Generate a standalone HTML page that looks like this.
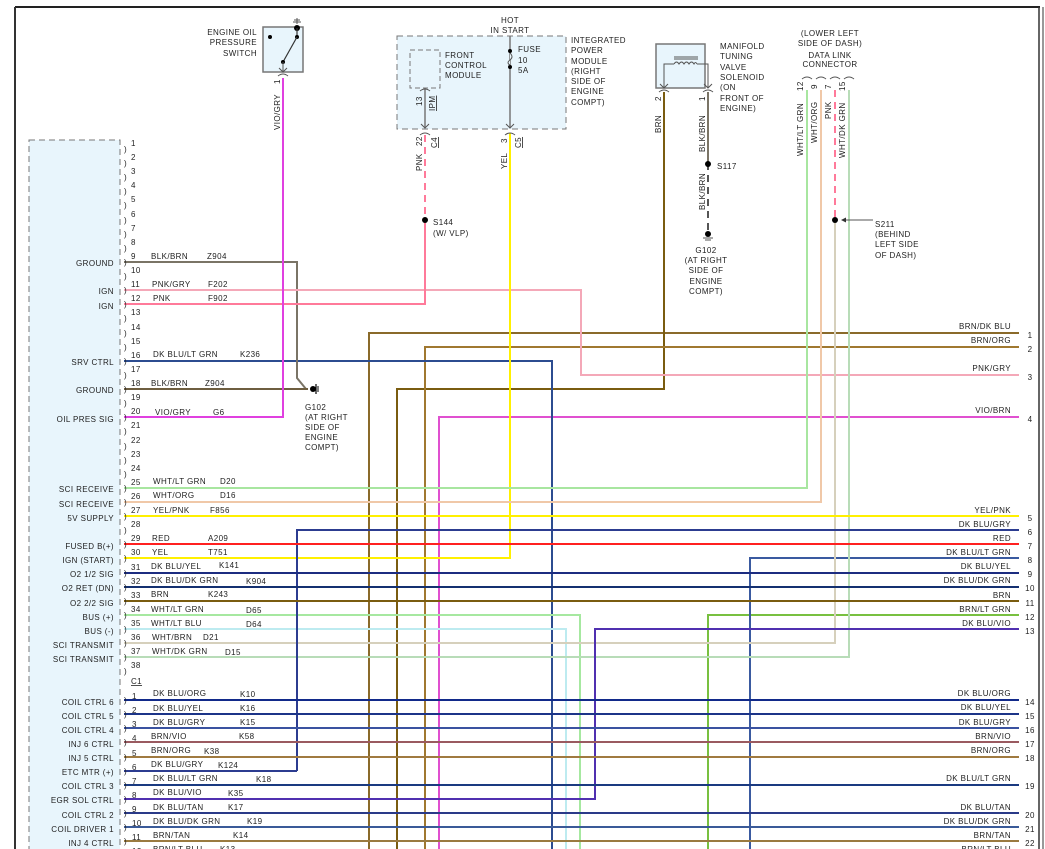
<!DOCTYPE html>
<html><head><meta charset="utf-8"><style>
html,body{margin:0;padding:0;background:#fff;width:1045px;height:849px;overflow:hidden}
svg{display:block}
text{font-family:"Liberation Sans",sans-serif;font-size:8px;fill:#222;letter-spacing:0.4px}
.l{text-anchor:end}
.c{text-anchor:middle}
.w{fill:none;stroke-width:2}
</style></head><body>
<svg width="1045" height="849" viewBox="0 0 1045 849" xmlns="http://www.w3.org/2000/svg">
<!-- borders -->
<line x1="15" y1="7" x2="1040" y2="7" stroke="#222" stroke-width="2"/>
<line x1="15" y1="7" x2="15" y2="849" stroke="#333" stroke-width="2"/>
<line x1="1039" y1="7" x2="1039" y2="849" stroke="#333" stroke-width="1.5"/>
<line x1="1043" y1="7" x2="1043" y2="849" stroke="#333" stroke-width="1"/>
<!-- PCM box -->
<rect x="29" y="140" width="91" height="720" fill="#e8f5fc" stroke="#777" stroke-dasharray="6,4"/>

<!-- vertical long wires to bottom -->
<g class="w">
<path d="M369 849 V333 H1019" stroke="#8a6a2a"/>
<path d="M397 849 V389 H664 V92" stroke="#7a5c10"/>
<path d="M425 849 V347 H1019" stroke="#a07830"/>
<path d="M439 849 V417 H1019" stroke="#e050d0"/>
<path d="M552 849 V361 H124" stroke="#2c4c90"/>
<path d="M566 849 V629 H124" stroke="#bdebf0"/>
<path d="M580 849 V615 H124" stroke="#a6e8a0"/>
<path d="M708 849 V615 H1019" stroke="#78c040"/>
<path d="M750 849 V558 H1019" stroke="#3a5aa0"/>
<!-- top-connected -->
<path d="M124 262 H297 V378 L306 389" stroke="#7a7466"/>
<path d="M124 389 H308" stroke="#6e5e40"/>
<path d="M124 290 H581 V375 H1019" stroke="#f4a8b8"/>
<path d="M124 304 H425 V220" stroke="#ff7a9a"/>
<path d="M124 417 H283 V78" stroke="#e040e0"/>
<path d="M124 558 H510 V133" stroke="#fff000"/>
<path d="M124 488 H807 V90" stroke="#a8e6a0"/>
<path d="M124 502 H821 V90" stroke="#f0c8a8"/>
<path d="M124 643 H835 V222" stroke="#d6d0bc"/>
<path d="M124 657 H849 V90" stroke="#b8dcb8"/>
<path d="M297 771 V530 H1019" stroke="#2c3c90"/>
<path d="M124 771 H297" stroke="#2c3c90"/>
<path d="M124 799 H595 V629 H1019" stroke="#5030b0"/>
<!-- straight -->
<path d="M124 516 H1019" stroke="#fff000"/>
<path d="M124 544 H1019" stroke="#ff2020"/>
<path d="M124 573 H1019" stroke="#1c2c80"/>
<path d="M124 587 H1019" stroke="#143070"/>
<path d="M124 601 H1019" stroke="#7a5c10"/>
<path d="M124 700 H1019" stroke="#122a8a"/>
<path d="M124 714 H1019" stroke="#1c3488"/>
<path d="M124 728 H1019" stroke="#3a52a0"/>
<path d="M124 742 H1019" stroke="#9a5a60"/>
<path d="M124 757 H1019" stroke="#a07a40"/>
<path d="M124 785 H1019" stroke="#1a3a80"/>
<path d="M124 813 H1019" stroke="#2a3a88"/>
<path d="M124 827 H1019" stroke="#3a5a98"/>
<path d="M124 841 H1019" stroke="#9a7a40"/>
</g>
<!-- dashed wires -->
<path d="M425 135 V220" stroke="#ff7a9a" stroke-width="2" stroke-dasharray="7,5" fill="none"/>
<path d="M835 90 V220" stroke="#ff7a9a" stroke-width="2" stroke-dasharray="7,5" fill="none"/>
<path d="M708 92 V163" stroke="#7a7466" stroke-width="2" fill="none"/>
<path d="M708 163 V233" stroke="#555" stroke-width="2" stroke-dasharray="7,5" fill="none"/>

<!-- PCM pins -->
<g>
<text x="124" y="152">)</text><text x="131" y="146">1</text>
<text x="124" y="166">)</text><text x="131" y="160">2</text>
<text x="124" y="180">)</text><text x="131" y="174">3</text>
<text x="124" y="194">)</text><text x="131" y="188">4</text>
<text x="124" y="208">)</text><text x="131" y="202">5</text>
<text x="124" y="223">)</text><text x="131" y="217">6</text>
<text x="124" y="237">)</text><text x="131" y="231">7</text>
<text x="124" y="251">)</text><text x="131" y="245">8</text>
<text x="124" y="265">)</text><text x="131" y="259">9</text>
<text x="124" y="279">)</text><text x="131" y="273">10</text>
<text x="124" y="293">)</text><text x="131" y="287">11</text>
<text x="124" y="307">)</text><text x="131" y="301">12</text>
<text x="124" y="321">)</text><text x="131" y="315">13</text>
<text x="124" y="336">)</text><text x="131" y="330">14</text>
<text x="124" y="350">)</text><text x="131" y="344">15</text>
<text x="124" y="364">)</text><text x="131" y="358">16</text>
<text x="124" y="378">)</text><text x="131" y="372">17</text>
<text x="124" y="392">)</text><text x="131" y="386">18</text>
<text x="124" y="406">)</text><text x="131" y="400">19</text>
<text x="124" y="420">)</text><text x="131" y="414">20</text>
<text x="124" y="434">)</text><text x="131" y="428">21</text>
<text x="124" y="449">)</text><text x="131" y="443">22</text>
<text x="124" y="463">)</text><text x="131" y="457">23</text>
<text x="124" y="477">)</text><text x="131" y="471">24</text>
<text x="124" y="491">)</text><text x="131" y="485">25</text>
<text x="124" y="505">)</text><text x="131" y="499">26</text>
<text x="124" y="519">)</text><text x="131" y="513">27</text>
<text x="124" y="533">)</text><text x="131" y="527">28</text>
<text x="124" y="547">)</text><text x="131" y="541">29</text>
<text x="124" y="561">)</text><text x="131" y="555">30</text>
<text x="124" y="576">)</text><text x="131" y="570">31</text>
<text x="124" y="590">)</text><text x="131" y="584">32</text>
<text x="124" y="604">)</text><text x="131" y="598">33</text>
<text x="124" y="618">)</text><text x="131" y="612">34</text>
<text x="124" y="632">)</text><text x="131" y="626">35</text>
<text x="124" y="646">)</text><text x="131" y="640">36</text>
<text x="124" y="660">)</text><text x="131" y="654">37</text>
<text x="124" y="674">)</text><text x="131" y="668">38</text>
<text x="131" y="684" text-decoration="underline">C1</text>
<text x="124" y="703">)</text><text x="132" y="699">1</text>
<text x="124" y="717">)</text><text x="132" y="713">2</text>
<text x="124" y="731">)</text><text x="132" y="727">3</text>
<text x="124" y="745">)</text><text x="132" y="741">4</text>
<text x="124" y="760">)</text><text x="132" y="756">5</text>
<text x="124" y="774">)</text><text x="132" y="770">6</text>
<text x="124" y="788">)</text><text x="132" y="784">7</text>
<text x="124" y="802">)</text><text x="132" y="798">8</text>
<text x="124" y="816">)</text><text x="132" y="812">9</text>
<text x="124" y="830">)</text><text x="132" y="826">10</text>
<text x="124" y="844">)</text><text x="132" y="840">11</text>
<text x="132" y="854">12</text>
</g>
<!-- PCM left labels -->
<g class="l">
<text x="114" y="266">GROUND</text>
<text x="114" y="294">IGN</text>
<text x="114" y="309">IGN</text>
<text x="114" y="365">SRV CTRL</text>
<text x="114" y="393">GROUND</text>
<text x="114" y="422">OIL PRES SIG</text>
<text x="114" y="492">SCI RECEIVE</text>
<text x="114" y="507">SCI RECEIVE</text>
<text x="114" y="521">5V SUPPLY</text>
<text x="114" y="549">FUSED B(+)</text>
<text x="114" y="563">IGN (START)</text>
<text x="114" y="577">O2 1/2 SIG</text>
<text x="114" y="591">O2 RET (DN)</text>
<text x="114" y="606">O2 2/2 SIG</text>
<text x="114" y="620">BUS (+)</text>
<text x="114" y="634">BUS (-)</text>
<text x="114" y="648">SCI TRANSMIT</text>
<text x="114" y="662">SCI TRANSMIT</text>
<text x="114" y="705">COIL CTRL 6</text>
<text x="114" y="719">COIL CTRL 5</text>
<text x="114" y="733">COIL CTRL 4</text>
<text x="114" y="747">INJ 6 CTRL</text>
<text x="114" y="761">INJ 5 CTRL</text>
<text x="114" y="775">ETC MTR (+)</text>
<text x="114" y="789">COIL CTRL 3</text>
<text x="114" y="803">EGR SOL CTRL</text>
<text x="114" y="818">COIL CTRL 2</text>
<text x="114" y="832">COIL DRIVER 1</text>
<text x="114" y="846">INJ 4 CTRL</text>
</g>
<!-- wire labels -->
<g>
<text x="151" y="259">BLK/BRN</text><text x="207" y="259">Z904</text>
<text x="152" y="287">PNK/GRY</text><text x="208" y="287">F202</text>
<text x="153" y="301">PNK</text><text x="208" y="301">F902</text>
<text x="153" y="357">DK BLU/LT GRN</text><text x="240" y="357">K236</text>
<text x="151" y="386">BLK/BRN</text><text x="205" y="386">Z904</text>
<text x="155" y="415">VIO/GRY</text><text x="213" y="415">G6</text>
<text x="153" y="484">WHT/LT GRN</text><text x="220" y="484">D20</text>
<text x="153" y="498">WHT/ORG</text><text x="220" y="498">D16</text>
<text x="153" y="513">YEL/PNK</text><text x="210" y="513">F856</text>
<text x="152" y="541">RED</text><text x="208" y="541">A209</text>
<text x="152" y="555">YEL</text><text x="208" y="555">T751</text>
<text x="151" y="569">DK BLU/YEL</text><text x="219" y="568">K141</text>
<text x="151" y="583">DK BLU/DK GRN</text><text x="246" y="584">K904</text>
<text x="151" y="597">BRN</text><text x="208" y="597">K243</text>
<text x="151" y="612">WHT/LT GRN</text><text x="246" y="613">D65</text>
<text x="151" y="626">WHT/LT BLU</text><text x="246" y="627">D64</text>
<text x="152" y="640">WHT/BRN</text><text x="203" y="640">D21</text>
<text x="152" y="654">WHT/DK GRN</text><text x="225" y="655">D15</text>
<text x="153" y="696">DK BLU/ORG</text><text x="240" y="697">K10</text>
<text x="153" y="711">DK BLU/YEL</text><text x="240" y="711">K16</text>
<text x="153" y="725">DK BLU/GRY</text><text x="240" y="725">K15</text>
<text x="151" y="739">BRN/VIO</text><text x="239" y="739">K58</text>
<text x="151" y="753">BRN/ORG</text><text x="204" y="754">K38</text>
<text x="151" y="767">DK BLU/GRY</text><text x="218" y="768">K124</text>
<text x="153" y="781">DK BLU/LT GRN</text><text x="256" y="782">K18</text>
<text x="153" y="795">DK BLU/VIO</text><text x="228" y="796">K35</text>
<text x="153" y="810">DK BLU/TAN</text><text x="228" y="810">K17</text>
<text x="153" y="824">DK BLU/DK GRN</text><text x="247" y="824">K19</text>
<text x="153" y="838">BRN/TAN</text><text x="233" y="838">K14</text>
<text x="153" y="852">BRN/LT BLU</text><text x="220" y="852">K13</text>
</g>
<!-- right labels -->
<g class="l">
<text x="1011" y="329">BRN/DK BLU</text>
<text x="1011" y="343">BRN/ORG</text>
<text x="1011" y="371">PNK/GRY</text>
<text x="1011" y="413">VIO/BRN</text>
<text x="1011" y="513">YEL/PNK</text>
<text x="1011" y="527">DK BLU/GRY</text>
<text x="1011" y="541">RED</text>
<text x="1011" y="555">DK BLU/LT GRN</text>
<text x="1011" y="569">DK BLU/YEL</text>
<text x="1011" y="583">DK BLU/DK GRN</text>
<text x="1011" y="598">BRN</text>
<text x="1011" y="612">BRN/LT GRN</text>
<text x="1011" y="626">DK BLU/VIO</text>
<text x="1011" y="696">DK BLU/ORG</text>
<text x="1011" y="710">DK BLU/YEL</text>
<text x="1011" y="725">DK BLU/GRY</text>
<text x="1011" y="739">BRN/VIO</text>
<text x="1011" y="753">BRN/ORG</text>
<text x="1011" y="781">DK BLU/LT GRN</text>
<text x="1011" y="810">DK BLU/TAN</text>
<text x="1011" y="824">DK BLU/DK GRN</text>
<text x="1011" y="838">BRN/TAN</text>
<text x="1011" y="852">BRN/LT BLU</text>
</g>
<g class="c">
<text x="1030" y="338">1</text><text x="1030" y="352">2</text><text x="1030" y="380">3</text><text x="1030" y="422">4</text>
<text x="1030" y="521">5</text><text x="1030" y="535">6</text><text x="1030" y="549">7</text><text x="1030" y="563">8</text>
<text x="1030" y="577">9</text><text x="1030" y="591">10</text><text x="1030" y="606">11</text><text x="1030" y="620">12</text>
<text x="1030" y="634">13</text><text x="1030" y="705">14</text><text x="1030" y="719">15</text><text x="1030" y="733">16</text>
<text x="1030" y="747">17</text><text x="1030" y="761">18</text><text x="1030" y="789">19</text><text x="1030" y="818">20</text>
<text x="1030" y="832">21</text><text x="1030" y="846">22</text>
</g>

<!-- G102 ground near 313,389 -->
<circle cx="313" cy="389" r="3" fill="#000"/>
<line x1="316" y1="384" x2="316" y2="394" stroke="#000" stroke-width="1.2"/>
<line x1="318" y1="386" x2="318" y2="392" stroke="#000"/>
<text x="305" y="410">G102</text><text x="305" y="420">(AT RIGHT</text><text x="305" y="430">SIDE OF</text><text x="305" y="440">ENGINE</text><text x="305" y="450">COMPT)</text>

<!-- Oil pressure switch -->
<rect x="263" y="27" width="40" height="45" fill="#e8f5fc" stroke="#777" stroke-width="1.5"/>
<circle cx="270" cy="37" r="2" fill="#000"/>
<circle cx="297" cy="28" r="3" fill="#000"/>
<line x1="293" y1="22" x2="301" y2="22" stroke="#555"/><line x1="294" y1="20" x2="300" y2="20" stroke="#555"/><line x1="297" y1="18" x2="297" y2="24" stroke="#555"/>
<line x1="297" y1="28" x2="297" y2="37" stroke="#333" stroke-width="1.2"/>
<circle cx="297" cy="37" r="2" fill="#000"/>
<line x1="297" y1="37" x2="283" y2="62" stroke="#333" stroke-width="1.2"/>
<circle cx="283" cy="62" r="2" fill="#000"/>
<path d="M283 62 V72 M279 68 L283 72 L287 68" stroke="#555" fill="none"/>
<path d="M278 76 Q283 72 288 76" stroke="#555" fill="none"/>
<g class="l"><text x="257" y="35">ENGINE OIL</text><text x="257" y="45">PRESSURE</text><text x="257" y="56">SWITCH</text></g>
<text transform="translate(280,84) rotate(-90)">1</text>
<text transform="translate(280,130) rotate(-90)">VIO/GRY</text>

<!-- IPM -->
<rect x="397" y="36" width="169" height="93" fill="#e8f5fc" stroke="#777" stroke-dasharray="6,4"/>
<rect x="410" y="50" width="30" height="38" fill="#e8f5fc" stroke="#777" stroke-dasharray="5,3"/>
<line x1="425" y1="88" x2="425" y2="128" stroke="#777" stroke-width="1.5"/>
<path d="M421 124 L425 128 L429 124" stroke="#555" fill="none"/>
<path d="M420 91 Q425 87 430 91" stroke="#555" fill="none"/>
<path d="M420 135 Q425 131 430 135" stroke="#555" fill="none"/>
<line x1="510" y1="36" x2="510" y2="128" stroke="#777" stroke-width="1.5"/>
<path d="M506 124 L510 128 L514 124" stroke="#555" fill="none"/>
<path d="M505 135 Q510 131 515 135" stroke="#555" fill="none"/>
<circle cx="510" cy="51" r="2" fill="#000"/><circle cx="510" cy="67" r="2" fill="#000"/>
<path d="M510 53 Q514 57 510 60 Q506 63 510 65" fill="#e8f5fc" stroke="#555"/>
<text class="c" x="510" y="23">HOT</text><text class="c" x="510" y="33">IN START</text>
<text x="518" y="52">FUSE</text><text x="518" y="63">10</text><text x="518" y="73">5A</text>
<text x="445" y="58">FRONT</text><text x="445" y="68">CONTROL</text><text x="445" y="78">MODULE</text>
<text x="571" y="43">INTEGRATED</text><text x="571" y="53">POWER</text><text x="571" y="64">MODULE</text><text x="571" y="74">(RIGHT</text><text x="571" y="84">SIDE OF</text><text x="571" y="94">ENGINE</text><text x="571" y="105">COMPT)</text>
<text transform="translate(422,106) rotate(-90)">13</text>
<text transform="translate(435,111) rotate(-90)" text-decoration="underline">IPM</text>
<text transform="translate(422,146) rotate(-90)">22</text>
<text transform="translate(437,148) rotate(-90)" text-decoration="underline">C4</text>
<text transform="translate(422,171) rotate(-90)">PNK</text>
<text transform="translate(507,143) rotate(-90)">3</text>
<text transform="translate(521,148) rotate(-90)" text-decoration="underline">C5</text>
<text transform="translate(507,169) rotate(-90)">YEL</text>
<circle cx="425" cy="220" r="3" fill="#000"/>
<text x="433" y="225">S144</text><text x="433" y="236">(W/ VLP)</text>

<!-- MTV solenoid -->
<rect x="656" y="44" width="49" height="44" fill="#e8f5fc" stroke="#777" stroke-width="1.5"/>
<path d="M664 88 V64 H674 M697 64 H708 V88" stroke="#555" fill="none"/>
<path d="M674 64 q2.5 -4 5 0 q2.5 -4 5 0 q2.5 -4 5 0 q2.5 -4 5 0 q1.5 -3 3 0" stroke="#555" fill="none"/>
<line x1="674" y1="57" x2="698" y2="57" stroke="#555"/><line x1="674" y1="59" x2="698" y2="59" stroke="#555"/>
<path d="M660 84 L664 88 L668 84 M704 84 L708 88 L712 84" stroke="#555" fill="none"/>
<path d="M659 92 Q664 88 669 92 M703 92 Q708 88 713 92" stroke="#555" fill="none"/>
<text x="720" y="49">MANIFOLD</text><text x="720" y="59">TUNING</text><text x="720" y="70">VALVE</text><text x="720" y="80">SOLENOID</text><text x="720" y="90">(ON</text><text x="720" y="101">FRONT OF</text><text x="720" y="111">ENGINE)</text>
<text transform="translate(661,101) rotate(-90)">2</text>
<text transform="translate(705,101) rotate(-90)">1</text>
<text transform="translate(661,133) rotate(-90)">BRN</text>
<text transform="translate(705,152) rotate(-90)">BLK/BRN</text>
<text transform="translate(705,210) rotate(-90)">BLK/BRN</text>
<circle cx="708" cy="164" r="3" fill="#000"/><text x="717" y="169">S117</text>
<circle cx="708" cy="234" r="3" fill="#000"/>
<line x1="703" y1="238" x2="713" y2="238" stroke="#555"/><line x1="705" y1="240" x2="711" y2="240" stroke="#555"/>
<g class="c"><text x="706" y="253">G102</text><text x="706" y="263">(AT RIGHT</text><text x="706" y="273">SIDE OF</text><text x="706" y="284">ENGINE</text><text x="706" y="294">COMPT)</text></g>

<!-- DLC -->
<g class="c"><text x="830" y="36">(LOWER LEFT</text><text x="830" y="46">SIDE OF DASH)</text><text x="830" y="58">DATA LINK</text><text x="830" y="67">CONNECTOR</text></g>
<path d="M802 79 Q807 75 812 79 M816 79 Q821 75 826 79 M830 79 Q835 75 840 79 M844 79 Q849 75 854 79" stroke="#555" fill="none"/>
<text transform="translate(803,91) rotate(-90)">12</text>
<text transform="translate(817,89) rotate(-90)">9</text>
<text transform="translate(831,89) rotate(-90)">7</text>
<text transform="translate(845,91) rotate(-90)">15</text>
<text transform="translate(803,156) rotate(-90)">WHT/LT GRN</text>
<text transform="translate(817,143) rotate(-90)">WHT/ORG</text>
<text transform="translate(831,119) rotate(-90)">PNK</text>
<text transform="translate(845,158) rotate(-90)">WHT/DK GRN</text>
<circle cx="835" cy="220" r="3" fill="#000"/>
<line x1="842" y1="220" x2="873" y2="220" stroke="#555"/>
<path d="M841 220 L846 217.5 L846 222.5 Z" fill="#333"/>
<text x="875" y="227">S211</text><text x="875" y="237">(BEHIND</text><text x="875" y="247">LEFT SIDE</text><text x="875" y="258">OF DASH)</text>
</svg>
</body></html>
